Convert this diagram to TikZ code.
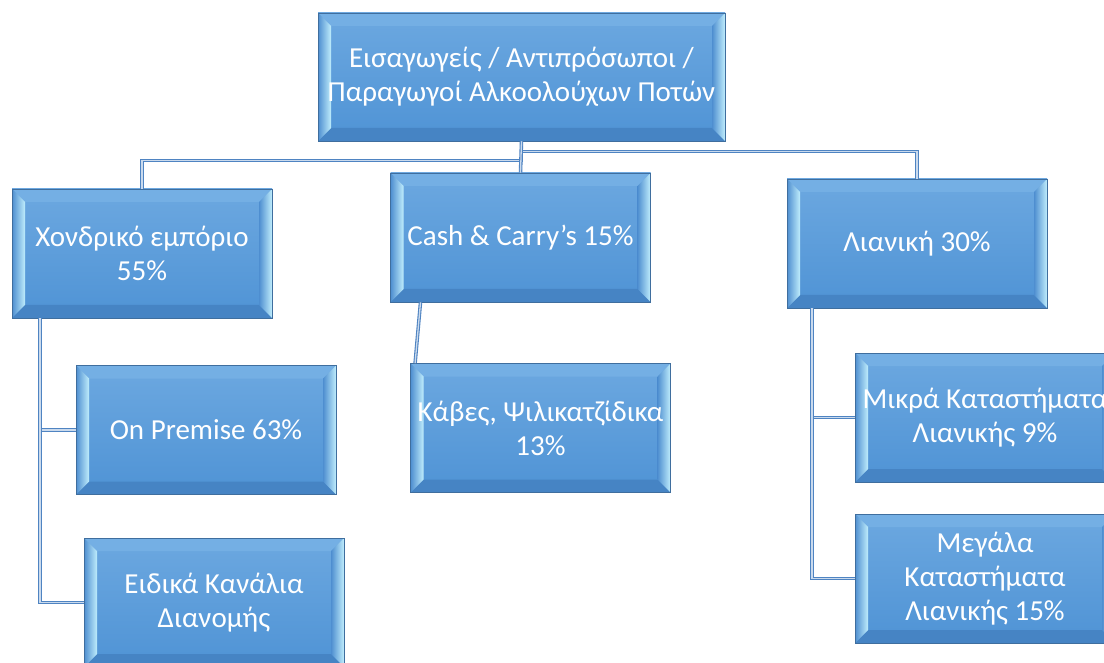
\documentclass[tikz,border=0pt]{standalone}
\usepackage{fontspec}
\newfontfamily\boxfont{Carlito}
\definecolor{boxedge}{HTML}{3F6E9E}
\definecolor{facetop}{HTML}{6CA8E0}
\definecolor{facebot}{HTML}{4F93D5}
\definecolor{bevtop}{HTML}{74AFE4}
\definecolor{bevbot}{HTML}{4684C4}
\definecolor{bevdark}{HTML}{4E8ED0}
\definecolor{bevlight}{HTML}{BFEDFC}
\definecolor{linkblue}{HTML}{4F84C2}
\begin{document}
\begin{tikzpicture}[x=1pt,y=1pt,
   box/.style={draw=boxedge,line width=0.8pt,top color=facetop,bottom color=facebot,
      inner sep=0pt,minimum width=260,minimum height=129,align=center,text=white,
      font={\boxfont\fontsize{29}{34}\selectfont},
      path picture={
         \coordinate (nw) at (path picture bounding box.north west);
         \coordinate (ne) at (path picture bounding box.north east);
         \coordinate (sw) at (path picture bounding box.south west);
         \coordinate (se) at (path picture bounding box.south east);
         \fill [bevtop] (nw) -- (ne) -- ([shift={(-13,-13)}]ne) -- ([shift={(13,-13)}]nw) -- cycle;
         \fill [bevbot] (sw) -- (se) -- ([shift={(-13,13)}]se) -- ([shift={(13,13)}]sw) -- cycle;
         \shade [left color=bevdark,right color=bevlight] (nw) -- ([shift={(13,-13)}]nw) -- ([shift={(13,13)}]sw) -- (sw) -- cycle;
         \shade [left color=bevdark,right color=bevlight] ([shift={(-13,-13)}]ne) -- (ne) -- (se) -- ([shift={(-13,13)}]se) -- cycle;
      }},
   link/.style={draw=linkblue,line width=1.1pt,double=linkblue!30!white,double distance=1.3pt}]
   \clip (0,0) rectangle (1104,-663);
   \fill [white] (0,0) rectangle (1104,-663);
   \node [box,minimum width=407,minimum height=128] (top) at (521.5,-77) {Εισαγωγείς / Αντιπρόσωποι /\\Παραγωγοί Αλκοολούχων Ποτών};
   \node [box] (whole) at (142,-253.5) {Χονδρικό εμπόριο\\55\%};
   \node [box] (cash) at (520.5,-237.5) {Cash \& Carry’s 15\%};
   \node [box] (retail) at (917,-243.5) {Λιανική 30\%};
   \node [box] (prem) at (206,-430) {On Premise 63\%};
   \node [box] (spec) at (214,-602.5) {Ειδικά Κανάλια\\Διανομής};
   \node [box] (kaves) at (540.5,-428) {Κάβες, Ψιλικατζίδικα\\13\%};
   \node [box] (small) at (985,-417.5) {Μικρά Καταστήματα\\Λιανικής 9\%};
   \node [box] (large) at (985,-578.5) {Μεγάλα\\Καταστήματα\\Λιανικής 15\%};
   \draw [link] (top.south) -- ++(0,-19) -| (whole.north);
   \draw [link] (top.south) -- ++(0,-10) -| (retail.north);
   \draw [link] (top.south) -- (cash.north);
   \draw [link] ([xshift=-102]whole.south) |- (prem.west);
   \draw [link] ([xshift=-102]whole.south) |- (spec.west);
   \draw [link] ([xshift=-100]cash.south) -- ([xshift=5]kaves.north west);
   \draw [link] ([xshift=-105]retail.south) |- (small.west);
   \draw [link] ([xshift=-105]retail.south) |- (large.west);
\end{tikzpicture}
\end{document}
